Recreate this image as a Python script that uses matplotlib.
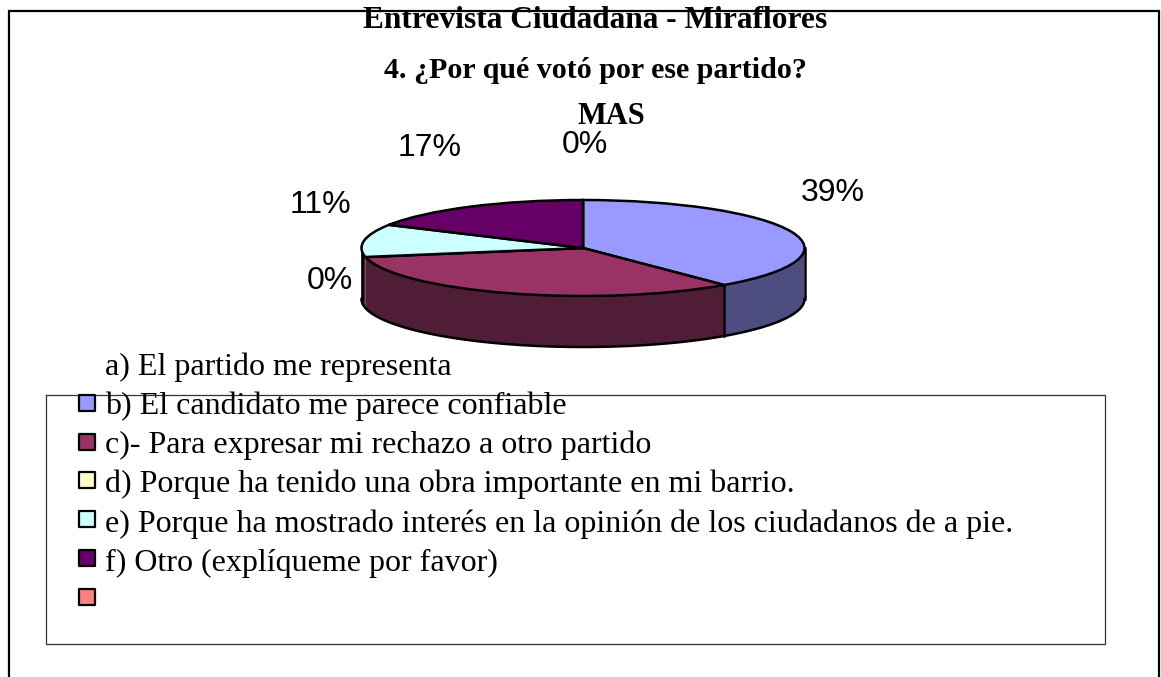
import matplotlib
matplotlib.use("Agg")
import matplotlib.pyplot as plt
import numpy as np

W = 1161
H = 677

titles = ["Entrevista Ciudadana - Miraflores", "4. ¿Por qué votó por ese partido?", "MAS"]
legend_labels = ["a) El partido me representa",
                 "b) El candidato me parece confiable",
                 "c)- Para expresar mi rechazo a otro partido",
                 "d) Porque ha tenido una obra importante en mi barrio.",
                 "e) Porque ha mostrado interés en la opinión de los ciudadanos de a pie.",
                 "f) Otro (explíqueme por favor)",
                 ""]
values = [39, 33, 0, 11, 17, 0]
pct_labels = ["39%", "", "0%", "11%", "17%", "0%"]
colors = ["#9999FF", "#993366", "#FFFFCC", "#CCFFFF", "#660066", "#FF8080"]
wall_colors = ["#4D4D80", "#4F1D36", "#4F1D36", "#4F1D36", "#330033", "#804040"]
pct_pos = [(833, 193), None, (330, 281), (320, 205), (430, 148), (585, 145)]

fig = plt.figure(figsize=(W/100, H/100), dpi=100)
bg = fig.add_axes([0, 0, 1, 1])
bg.set_xlim(0, W)
bg.set_ylim(H, 0)
bg.axis("off")

# outer frame, no bottom side
bg.plot([9, 9, 1159, 1159], [H, 11, 11, H], color="black", lw=1.6, solid_joinstyle="miter")
# legend box
bg.plot([46, 46, 1105, 1105, 46], [395, 644, 644, 395, 395], color="#333333", lw=0.9)

title_x = [595, 595, 611]
title_y = [20, 70, 116]
title_size = [22.6, 21.6, 22]
for t, x, y, s in zip(titles, title_x, title_y, title_size):
    bg.text(x, y, t, family="Liberation Serif", weight="bold", fontsize=s,
            ha="center", va="center", color="black")

for lab, p in zip(pct_labels, pct_pos):
    if p is not None:
        bg.text(p[0], p[1], lab, family="Liberation Sans", fontsize=23, ha="center", va="center")

row_y = 367
for i, lab in enumerate(legend_labels):
    bg.text(105, row_y + i*39.2, lab, family="Liberation Serif", fontsize=23,
            ha="left", va="center", color="black")
    if i > 0:
        bg.scatter([87], [364 + i*38.8], marker="s", s=135, c=colors[i-1],
                   edgecolors="black", linewidths=1.6, zorder=3)

# pie: ellipse squeezed by turning the aspect off
rx = 221.5
ry = 48
depth = 51/ry
left = 583 - rx
top = 200
ax = fig.add_axes([left/W, 1 - (top + 2*ry + 51)/H, 2*rx/W, (2*ry + 51)/H])
ax.patch.set_alpha(0)
ax.pie(values, colors=colors, startangle=90, counterclock=False, radius=1,
       wedgeprops=dict(edgecolor="black", linewidth=1.8, zorder=3))
ax.set_aspect("auto")
ax.set_xlim(-1, 1)
ax.set_ylim(-1 - depth, 1)
ax.axis("off")

edges = 90 - np.cumsum([0] + values)*3.6
for i in range(len(values)):
    a1 = max(edges[i+1], -180)
    a2 = min(edges[i], 0)
    if a1 >= a2:
        continue
    th = np.radians(np.linspace(a1, a2, 60))
    x = np.cos(th)
    y = np.sin(th)
    ax.fill(np.r_[x, x[::-1]], np.r_[y, y[::-1] - depth], facecolor=wall_colors[i],
            edgecolor="none", zorder=2, clip_on=False)

# wall outline: bottom arc and the three visible verticals
th = np.radians(np.linspace(-180, 0, 120))
ax.plot(np.cos(th), np.sin(th) - depth, color="black", lw=1.8, zorder=2.5)
for a in [-180, edges[1], 0]:
    px = np.cos(np.radians(a))
    py = np.sin(np.radians(a))
    ax.plot([px, px], [py, py - depth], color="black", lw=1.8, zorder=2.5)

for c in ax.get_children():
    c.set_clip_on(False)

fig.savefig("out.png", dpi=100)
